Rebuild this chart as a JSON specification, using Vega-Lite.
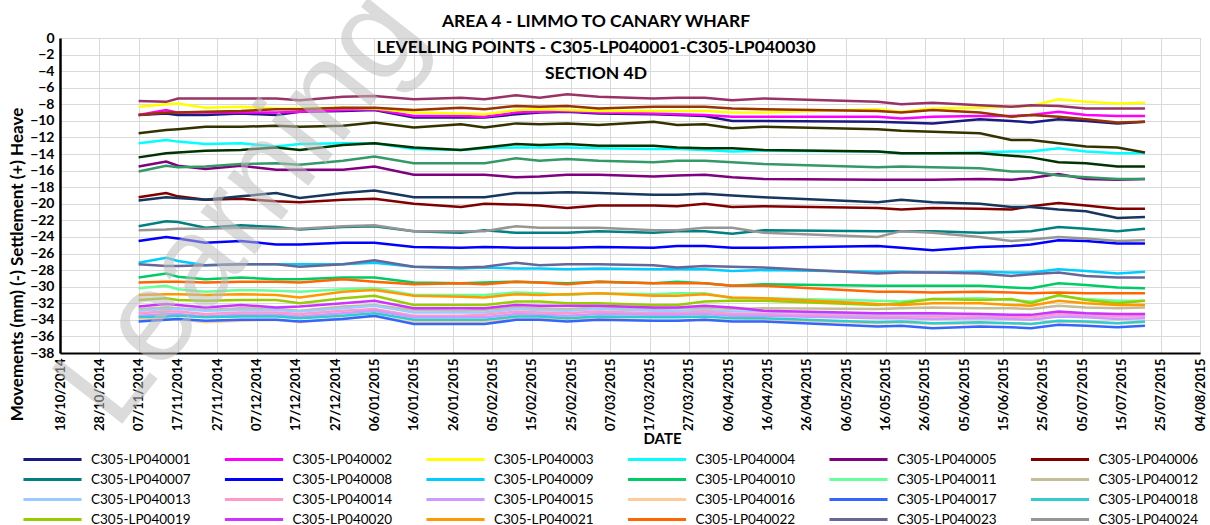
{
"$schema": "https://vega.github.io/schema/vega-lite/v6.json",
"width": 1140, "height": 315,
"autosize": {"type": "none"},
"padding": {"left": 60, "top": 38, "right": 10, "bottom": 172},
"background": "white",
"config": {"font": "Lato", "view": {"stroke": "#a6a6a6", "strokeWidth": 1}, "axis": {"labelOverlap": false, "labelSeparation": 0}},
"title": {"text": ["AREA 4 - LIMMO TO CANARY WHARF", "LEVELLING POINTS -  C305-LP040001-C305-LP040030", "SECTION 4D"], "fontSize": 17.5, "fontWeight": "bold", "font": "Lato", "color": "black", "anchor": "middle", "dx": -34, "offset": -44, "dy": 69, "lineHeight": 26},
"data": {"values": [
{"s":"01","d":"2014-11-07","v":-9.3},{"s":"01","d":"2014-11-14","v":-9.1},{"s":"01","d":"2014-11-17","v":-9.3},{"s":"01","d":"2014-11-24","v":-9.3},{"s":"01","d":"2014-12-03","v":-9.1},{"s":"01","d":"2014-12-12","v":-9.3},{"s":"01","d":"2014-12-18","v":-8.9},{"s":"01","d":"2014-12-29","v":-8.8},{"s":"01","d":"2015-01-06","v":-8.7},{"s":"01","d":"2015-01-16","v":-9.6},{"s":"01","d":"2015-01-28","v":-9.6},{"s":"01","d":"2015-02-03","v":-9.6},{"s":"01","d":"2015-02-11","v":-9.2},{"s":"01","d":"2015-02-17","v":-9.0},{"s":"01","d":"2015-02-24","v":-8.9},{"s":"01","d":"2015-03-04","v":-9.1},{"s":"01","d":"2015-03-18","v":-9.2},{"s":"01","d":"2015-03-24","v":-9.3},{"s":"01","d":"2015-03-31","v":-9.4},{"s":"01","d":"2015-04-07","v":-10.0},{"s":"01","d":"2015-04-15","v":-10.0},{"s":"01","d":"2015-05-14","v":-10.1},{"s":"01","d":"2015-05-20","v":-10.2},{"s":"01","d":"2015-05-28","v":-10.3},{"s":"01","d":"2015-06-09","v":-9.8},{"s":"01","d":"2015-06-17","v":-10.0},{"s":"01","d":"2015-06-22","v":-10.2},{"s":"01","d":"2015-06-29","v":-9.8},{"s":"01","d":"2015-07-06","v":-10.0},{"s":"01","d":"2015-07-14","v":-10.3},{"s":"01","d":"2015-07-21","v":-10.1},
{"s":"02","d":"2014-11-07","v":-9.3},{"s":"02","d":"2014-11-14","v":-8.7},{"s":"02","d":"2014-11-17","v":-9.0},{"s":"02","d":"2014-11-24","v":-9.0},{"s":"02","d":"2014-12-03","v":-9.0},{"s":"02","d":"2014-12-12","v":-9.0},{"s":"02","d":"2014-12-18","v":-8.9},{"s":"02","d":"2014-12-29","v":-8.7},{"s":"02","d":"2015-01-06","v":-8.6},{"s":"02","d":"2015-01-16","v":-9.4},{"s":"02","d":"2015-01-28","v":-9.4},{"s":"02","d":"2015-02-03","v":-9.5},{"s":"02","d":"2015-02-11","v":-9.0},{"s":"02","d":"2015-02-17","v":-8.9},{"s":"02","d":"2015-02-24","v":-8.8},{"s":"02","d":"2015-03-04","v":-9.0},{"s":"02","d":"2015-03-18","v":-9.1},{"s":"02","d":"2015-03-24","v":-9.2},{"s":"02","d":"2015-03-31","v":-9.3},{"s":"02","d":"2015-04-07","v":-9.5},{"s":"02","d":"2015-04-15","v":-9.5},{"s":"02","d":"2015-05-14","v":-9.5},{"s":"02","d":"2015-05-20","v":-9.7},{"s":"02","d":"2015-05-28","v":-9.5},{"s":"02","d":"2015-06-09","v":-9.4},{"s":"02","d":"2015-06-17","v":-9.4},{"s":"02","d":"2015-06-22","v":-9.3},{"s":"02","d":"2015-06-29","v":-8.9},{"s":"02","d":"2015-07-06","v":-9.3},{"s":"02","d":"2015-07-14","v":-9.4},{"s":"02","d":"2015-07-21","v":-9.4},
{"s":"03","d":"2014-11-07","v":-8.3},{"s":"03","d":"2014-11-14","v":-8.0},{"s":"03","d":"2014-11-17","v":-7.9},{"s":"03","d":"2014-11-24","v":-8.4},{"s":"03","d":"2014-12-03","v":-8.3},{"s":"03","d":"2014-12-12","v":-8.5},{"s":"03","d":"2014-12-18","v":-8.5},{"s":"03","d":"2014-12-29","v":-8.4},{"s":"03","d":"2015-01-06","v":-8.5},{"s":"03","d":"2015-01-16","v":-9.0},{"s":"03","d":"2015-01-28","v":-9.1},{"s":"03","d":"2015-02-03","v":-9.2},{"s":"03","d":"2015-02-11","v":-8.7},{"s":"03","d":"2015-02-17","v":-8.6},{"s":"03","d":"2015-02-24","v":-8.7},{"s":"03","d":"2015-03-04","v":-8.8},{"s":"03","d":"2015-03-18","v":-8.8},{"s":"03","d":"2015-03-24","v":-8.8},{"s":"03","d":"2015-03-31","v":-8.8},{"s":"03","d":"2015-04-07","v":-9.0},{"s":"03","d":"2015-04-15","v":-9.0},{"s":"03","d":"2015-05-14","v":-8.6},{"s":"03","d":"2015-05-20","v":-8.9},{"s":"03","d":"2015-05-28","v":-8.5},{"s":"03","d":"2015-06-09","v":-8.4},{"s":"03","d":"2015-06-17","v":-8.3},{"s":"03","d":"2015-06-22","v":-8.2},{"s":"03","d":"2015-06-29","v":-7.4},{"s":"03","d":"2015-07-06","v":-7.7},{"s":"03","d":"2015-07-14","v":-7.9},{"s":"03","d":"2015-07-21","v":-7.8},
{"s":"04","d":"2014-11-07","v":-12.7},{"s":"04","d":"2014-11-14","v":-12.3},{"s":"04","d":"2014-11-17","v":-12.5},{"s":"04","d":"2014-11-24","v":-12.8},{"s":"04","d":"2014-12-03","v":-12.7},{"s":"04","d":"2014-12-12","v":-13.1},{"s":"04","d":"2014-12-18","v":-12.8},{"s":"04","d":"2014-12-29","v":-12.7},{"s":"04","d":"2015-01-06","v":-12.7},{"s":"04","d":"2015-01-16","v":-13.4},{"s":"04","d":"2015-01-28","v":-13.5},{"s":"04","d":"2015-02-03","v":-13.3},{"s":"04","d":"2015-02-11","v":-13.2},{"s":"04","d":"2015-02-17","v":-13.2},{"s":"04","d":"2015-02-24","v":-13.2},{"s":"04","d":"2015-03-04","v":-13.3},{"s":"04","d":"2015-03-18","v":-13.4},{"s":"04","d":"2015-03-24","v":-13.4},{"s":"04","d":"2015-03-31","v":-13.5},{"s":"04","d":"2015-04-07","v":-13.7},{"s":"04","d":"2015-04-15","v":-13.6},{"s":"04","d":"2015-05-14","v":-13.7},{"s":"04","d":"2015-05-20","v":-13.9},{"s":"04","d":"2015-05-28","v":-13.9},{"s":"04","d":"2015-06-09","v":-13.8},{"s":"04","d":"2015-06-17","v":-13.7},{"s":"04","d":"2015-06-22","v":-13.7},{"s":"04","d":"2015-06-29","v":-13.3},{"s":"04","d":"2015-07-06","v":-13.7},{"s":"04","d":"2015-07-14","v":-13.9},{"s":"04","d":"2015-07-21","v":-13.9},
{"s":"05","d":"2014-11-07","v":-15.5},{"s":"05","d":"2014-11-14","v":-14.9},{"s":"05","d":"2014-11-17","v":-15.4},{"s":"05","d":"2014-11-24","v":-15.8},{"s":"05","d":"2014-12-03","v":-15.4},{"s":"05","d":"2014-12-12","v":-15.9},{"s":"05","d":"2014-12-18","v":-15.9},{"s":"05","d":"2014-12-29","v":-15.9},{"s":"05","d":"2015-01-06","v":-15.5},{"s":"05","d":"2015-01-16","v":-16.5},{"s":"05","d":"2015-01-28","v":-16.5},{"s":"05","d":"2015-02-03","v":-16.5},{"s":"05","d":"2015-02-11","v":-16.8},{"s":"05","d":"2015-02-17","v":-16.7},{"s":"05","d":"2015-02-24","v":-16.5},{"s":"05","d":"2015-03-04","v":-16.5},{"s":"05","d":"2015-03-18","v":-16.7},{"s":"05","d":"2015-03-24","v":-16.6},{"s":"05","d":"2015-03-31","v":-16.5},{"s":"05","d":"2015-04-07","v":-16.8},{"s":"05","d":"2015-04-15","v":-17.0},{"s":"05","d":"2015-05-14","v":-17.1},{"s":"05","d":"2015-05-20","v":-17.1},{"s":"05","d":"2015-05-28","v":-17.1},{"s":"05","d":"2015-06-09","v":-17.0},{"s":"05","d":"2015-06-17","v":-17.1},{"s":"05","d":"2015-06-22","v":-16.9},{"s":"05","d":"2015-06-29","v":-16.4},{"s":"05","d":"2015-07-06","v":-17.0},{"s":"05","d":"2015-07-14","v":-17.1},{"s":"05","d":"2015-07-21","v":-17.0},
{"s":"06","d":"2014-11-07","v":-19.2},{"s":"06","d":"2014-11-14","v":-18.7},{"s":"06","d":"2014-11-17","v":-19.1},{"s":"06","d":"2014-11-24","v":-19.5},{"s":"06","d":"2014-12-03","v":-19.4},{"s":"06","d":"2014-12-12","v":-19.7},{"s":"06","d":"2014-12-18","v":-19.8},{"s":"06","d":"2014-12-29","v":-19.5},{"s":"06","d":"2015-01-06","v":-19.4},{"s":"06","d":"2015-01-16","v":-20.0},{"s":"06","d":"2015-01-28","v":-20.4},{"s":"06","d":"2015-02-03","v":-20.0},{"s":"06","d":"2015-02-11","v":-20.1},{"s":"06","d":"2015-02-17","v":-20.2},{"s":"06","d":"2015-02-24","v":-20.5},{"s":"06","d":"2015-03-04","v":-20.2},{"s":"06","d":"2015-03-18","v":-20.2},{"s":"06","d":"2015-03-24","v":-20.3},{"s":"06","d":"2015-03-31","v":-20.0},{"s":"06","d":"2015-04-07","v":-20.4},{"s":"06","d":"2015-04-15","v":-20.3},{"s":"06","d":"2015-05-14","v":-20.5},{"s":"06","d":"2015-05-20","v":-20.7},{"s":"06","d":"2015-05-28","v":-20.5},{"s":"06","d":"2015-06-09","v":-20.6},{"s":"06","d":"2015-06-17","v":-20.7},{"s":"06","d":"2015-06-22","v":-20.3},{"s":"06","d":"2015-06-29","v":-19.9},{"s":"06","d":"2015-07-06","v":-20.2},{"s":"06","d":"2015-07-14","v":-20.6},{"s":"06","d":"2015-07-21","v":-20.6},
{"s":"07","d":"2014-11-07","v":-22.7},{"s":"07","d":"2014-11-14","v":-22.1},{"s":"07","d":"2014-11-17","v":-22.2},{"s":"07","d":"2014-11-24","v":-22.9},{"s":"07","d":"2014-12-03","v":-22.6},{"s":"07","d":"2014-12-12","v":-22.8},{"s":"07","d":"2014-12-18","v":-23.1},{"s":"07","d":"2014-12-29","v":-22.8},{"s":"07","d":"2015-01-06","v":-22.7},{"s":"07","d":"2015-01-16","v":-23.3},{"s":"07","d":"2015-01-28","v":-23.5},{"s":"07","d":"2015-02-03","v":-23.2},{"s":"07","d":"2015-02-11","v":-23.5},{"s":"07","d":"2015-02-17","v":-23.5},{"s":"07","d":"2015-02-24","v":-23.5},{"s":"07","d":"2015-03-04","v":-23.3},{"s":"07","d":"2015-03-18","v":-23.5},{"s":"07","d":"2015-03-24","v":-23.3},{"s":"07","d":"2015-03-31","v":-23.3},{"s":"07","d":"2015-04-07","v":-23.6},{"s":"07","d":"2015-04-15","v":-23.2},{"s":"07","d":"2015-05-14","v":-23.3},{"s":"07","d":"2015-05-20","v":-23.3},{"s":"07","d":"2015-05-28","v":-23.3},{"s":"07","d":"2015-06-09","v":-23.5},{"s":"07","d":"2015-06-17","v":-23.4},{"s":"07","d":"2015-06-22","v":-23.3},{"s":"07","d":"2015-06-29","v":-22.8},{"s":"07","d":"2015-07-06","v":-23.0},{"s":"07","d":"2015-07-14","v":-23.3},{"s":"07","d":"2015-07-21","v":-23.0},
{"s":"08","d":"2014-11-07","v":-24.5},{"s":"08","d":"2014-11-14","v":-24.0},{"s":"08","d":"2014-11-17","v":-24.2},{"s":"08","d":"2014-11-24","v":-24.7},{"s":"08","d":"2014-12-03","v":-24.5},{"s":"08","d":"2014-12-12","v":-24.9},{"s":"08","d":"2014-12-18","v":-24.9},{"s":"08","d":"2014-12-29","v":-24.7},{"s":"08","d":"2015-01-06","v":-24.7},{"s":"08","d":"2015-01-16","v":-25.2},{"s":"08","d":"2015-01-28","v":-25.3},{"s":"08","d":"2015-02-03","v":-25.2},{"s":"08","d":"2015-02-11","v":-25.3},{"s":"08","d":"2015-02-17","v":-25.3},{"s":"08","d":"2015-02-24","v":-25.3},{"s":"08","d":"2015-03-04","v":-25.2},{"s":"08","d":"2015-03-18","v":-25.3},{"s":"08","d":"2015-03-24","v":-25.1},{"s":"08","d":"2015-03-31","v":-25.1},{"s":"08","d":"2015-04-07","v":-25.3},{"s":"08","d":"2015-04-15","v":-25.3},{"s":"08","d":"2015-05-14","v":-25.1},{"s":"08","d":"2015-05-20","v":-25.3},{"s":"08","d":"2015-05-28","v":-25.6},{"s":"08","d":"2015-06-09","v":-25.2},{"s":"08","d":"2015-06-17","v":-25.1},{"s":"08","d":"2015-06-22","v":-24.9},{"s":"08","d":"2015-06-29","v":-24.4},{"s":"08","d":"2015-07-06","v":-24.5},{"s":"08","d":"2015-07-14","v":-24.8},{"s":"08","d":"2015-07-21","v":-24.8},
{"s":"09","d":"2014-11-07","v":-27.1},{"s":"09","d":"2014-11-14","v":-26.5},{"s":"09","d":"2014-11-17","v":-26.9},{"s":"09","d":"2014-11-24","v":-27.4},{"s":"09","d":"2014-12-03","v":-27.3},{"s":"09","d":"2014-12-12","v":-27.3},{"s":"09","d":"2014-12-18","v":-27.3},{"s":"09","d":"2014-12-29","v":-27.3},{"s":"09","d":"2015-01-06","v":-27.1},{"s":"09","d":"2015-01-16","v":-27.6},{"s":"09","d":"2015-01-28","v":-27.8},{"s":"09","d":"2015-02-03","v":-27.7},{"s":"09","d":"2015-02-11","v":-27.8},{"s":"09","d":"2015-02-17","v":-27.8},{"s":"09","d":"2015-02-24","v":-27.9},{"s":"09","d":"2015-03-04","v":-27.8},{"s":"09","d":"2015-03-18","v":-27.9},{"s":"09","d":"2015-03-24","v":-27.9},{"s":"09","d":"2015-03-31","v":-27.9},{"s":"09","d":"2015-04-07","v":-28.1},{"s":"09","d":"2015-04-15","v":-28.0},{"s":"09","d":"2015-05-14","v":-28.2},{"s":"09","d":"2015-05-20","v":-28.2},{"s":"09","d":"2015-05-28","v":-28.3},{"s":"09","d":"2015-06-09","v":-28.2},{"s":"09","d":"2015-06-17","v":-28.3},{"s":"09","d":"2015-06-22","v":-28.3},{"s":"09","d":"2015-06-29","v":-27.9},{"s":"09","d":"2015-07-06","v":-28.1},{"s":"09","d":"2015-07-14","v":-28.4},{"s":"09","d":"2015-07-21","v":-28.2},
{"s":"10","d":"2014-11-07","v":-28.9},{"s":"10","d":"2014-11-14","v":-28.4},{"s":"10","d":"2014-11-17","v":-28.8},{"s":"10","d":"2014-11-24","v":-29.1},{"s":"10","d":"2014-12-03","v":-28.9},{"s":"10","d":"2014-12-12","v":-29.1},{"s":"10","d":"2014-12-18","v":-29.1},{"s":"10","d":"2014-12-29","v":-28.9},{"s":"10","d":"2015-01-06","v":-28.9},{"s":"10","d":"2015-01-16","v":-29.5},{"s":"10","d":"2015-01-28","v":-29.6},{"s":"10","d":"2015-02-03","v":-29.5},{"s":"10","d":"2015-02-11","v":-29.4},{"s":"10","d":"2015-02-17","v":-29.5},{"s":"10","d":"2015-02-24","v":-29.6},{"s":"10","d":"2015-03-04","v":-29.4},{"s":"10","d":"2015-03-18","v":-29.6},{"s":"10","d":"2015-03-24","v":-29.4},{"s":"10","d":"2015-03-31","v":-29.6},{"s":"10","d":"2015-04-07","v":-29.9},{"s":"10","d":"2015-04-15","v":-29.7},{"s":"10","d":"2015-05-14","v":-29.9},{"s":"10","d":"2015-05-20","v":-29.9},{"s":"10","d":"2015-05-28","v":-29.9},{"s":"10","d":"2015-06-09","v":-29.9},{"s":"10","d":"2015-06-17","v":-30.1},{"s":"10","d":"2015-06-22","v":-30.2},{"s":"10","d":"2015-06-29","v":-29.6},{"s":"10","d":"2015-07-06","v":-29.8},{"s":"10","d":"2015-07-14","v":-30.1},{"s":"10","d":"2015-07-21","v":-30.2},
{"s":"11","d":"2014-11-07","v":-30.2},{"s":"11","d":"2014-11-14","v":-29.9},{"s":"11","d":"2014-11-17","v":-30.3},{"s":"11","d":"2014-11-24","v":-30.6},{"s":"11","d":"2014-12-03","v":-30.4},{"s":"11","d":"2014-12-12","v":-30.5},{"s":"11","d":"2014-12-18","v":-30.6},{"s":"11","d":"2014-12-29","v":-30.3},{"s":"11","d":"2015-01-06","v":-30.2},{"s":"11","d":"2015-01-16","v":-31.0},{"s":"11","d":"2015-01-28","v":-31.0},{"s":"11","d":"2015-02-03","v":-31.0},{"s":"11","d":"2015-02-11","v":-30.7},{"s":"11","d":"2015-02-17","v":-30.8},{"s":"11","d":"2015-02-24","v":-31.0},{"s":"11","d":"2015-03-04","v":-30.8},{"s":"11","d":"2015-03-18","v":-30.9},{"s":"11","d":"2015-03-24","v":-30.8},{"s":"11","d":"2015-03-31","v":-30.8},{"s":"11","d":"2015-04-07","v":-31.4},{"s":"11","d":"2015-04-15","v":-31.4},{"s":"11","d":"2015-05-14","v":-31.7},{"s":"11","d":"2015-05-20","v":-31.8},{"s":"11","d":"2015-05-28","v":-31.5},{"s":"11","d":"2015-06-09","v":-31.4},{"s":"11","d":"2015-06-17","v":-31.6},{"s":"11","d":"2015-06-22","v":-31.8},{"s":"11","d":"2015-06-29","v":-31.1},{"s":"11","d":"2015-07-06","v":-31.5},{"s":"11","d":"2015-07-14","v":-31.7},{"s":"11","d":"2015-07-21","v":-31.7},
{"s":"12","d":"2014-11-07","v":-32.7},{"s":"12","d":"2014-11-14","v":-32.5},{"s":"12","d":"2014-11-17","v":-32.6},{"s":"12","d":"2014-11-24","v":-32.8},{"s":"12","d":"2014-12-03","v":-32.6},{"s":"12","d":"2014-12-12","v":-32.7},{"s":"12","d":"2014-12-18","v":-32.9},{"s":"12","d":"2014-12-29","v":-32.4},{"s":"12","d":"2015-01-06","v":-32.2},{"s":"12","d":"2015-01-16","v":-32.8},{"s":"12","d":"2015-01-28","v":-32.9},{"s":"12","d":"2015-02-03","v":-32.8},{"s":"12","d":"2015-02-11","v":-32.5},{"s":"12","d":"2015-02-17","v":-32.6},{"s":"12","d":"2015-02-24","v":-32.7},{"s":"12","d":"2015-03-04","v":-32.5},{"s":"12","d":"2015-03-18","v":-32.7},{"s":"12","d":"2015-03-24","v":-32.6},{"s":"12","d":"2015-03-31","v":-32.5},{"s":"12","d":"2015-04-07","v":-32.7},{"s":"12","d":"2015-04-15","v":-32.6},{"s":"12","d":"2015-05-14","v":-32.7},{"s":"12","d":"2015-05-20","v":-32.6},{"s":"12","d":"2015-05-28","v":-32.5},{"s":"12","d":"2015-06-09","v":-32.6},{"s":"12","d":"2015-06-17","v":-32.6},{"s":"12","d":"2015-06-22","v":-32.7},{"s":"12","d":"2015-06-29","v":-32.3},{"s":"12","d":"2015-07-06","v":-32.5},{"s":"12","d":"2015-07-14","v":-32.6},{"s":"12","d":"2015-07-21","v":-32.5},
{"s":"13","d":"2014-11-07","v":-32.9},{"s":"13","d":"2014-11-14","v":-32.7},{"s":"13","d":"2014-11-17","v":-32.7},{"s":"13","d":"2014-11-24","v":-32.9},{"s":"13","d":"2014-12-03","v":-32.8},{"s":"13","d":"2014-12-12","v":-32.8},{"s":"13","d":"2014-12-18","v":-33.0},{"s":"13","d":"2014-12-29","v":-32.6},{"s":"13","d":"2015-01-06","v":-32.3},{"s":"13","d":"2015-01-16","v":-33.1},{"s":"13","d":"2015-01-28","v":-33.1},{"s":"13","d":"2015-02-03","v":-33.1},{"s":"13","d":"2015-02-11","v":-32.7},{"s":"13","d":"2015-02-17","v":-32.8},{"s":"13","d":"2015-02-24","v":-32.9},{"s":"13","d":"2015-03-04","v":-32.7},{"s":"13","d":"2015-03-18","v":-32.9},{"s":"13","d":"2015-03-24","v":-32.9},{"s":"13","d":"2015-03-31","v":-32.8},{"s":"13","d":"2015-04-07","v":-33.0},{"s":"13","d":"2015-04-15","v":-33.0},{"s":"13","d":"2015-05-14","v":-33.4},{"s":"13","d":"2015-05-20","v":-33.3},{"s":"13","d":"2015-05-28","v":-33.4},{"s":"13","d":"2015-06-09","v":-33.3},{"s":"13","d":"2015-06-17","v":-33.5},{"s":"13","d":"2015-06-22","v":-33.5},{"s":"13","d":"2015-06-29","v":-33.1},{"s":"13","d":"2015-07-06","v":-33.2},{"s":"13","d":"2015-07-14","v":-33.4},{"s":"13","d":"2015-07-21","v":-33.3},
{"s":"14","d":"2014-11-07","v":-33.2},{"s":"14","d":"2014-11-14","v":-33.0},{"s":"14","d":"2014-11-17","v":-33.0},{"s":"14","d":"2014-11-24","v":-33.3},{"s":"14","d":"2014-12-03","v":-33.1},{"s":"14","d":"2014-12-12","v":-33.1},{"s":"14","d":"2014-12-18","v":-33.3},{"s":"14","d":"2014-12-29","v":-32.9},{"s":"14","d":"2015-01-06","v":-32.7},{"s":"14","d":"2015-01-16","v":-33.5},{"s":"14","d":"2015-01-28","v":-33.5},{"s":"14","d":"2015-02-03","v":-33.4},{"s":"14","d":"2015-02-11","v":-33.0},{"s":"14","d":"2015-02-17","v":-33.1},{"s":"14","d":"2015-02-24","v":-33.2},{"s":"14","d":"2015-03-04","v":-33.0},{"s":"14","d":"2015-03-18","v":-33.2},{"s":"14","d":"2015-03-24","v":-33.2},{"s":"14","d":"2015-03-31","v":-33.0},{"s":"14","d":"2015-04-07","v":-33.3},{"s":"14","d":"2015-04-15","v":-33.3},{"s":"14","d":"2015-05-14","v":-33.6},{"s":"14","d":"2015-05-20","v":-33.6},{"s":"14","d":"2015-05-28","v":-33.6},{"s":"14","d":"2015-06-09","v":-33.6},{"s":"14","d":"2015-06-17","v":-33.7},{"s":"14","d":"2015-06-22","v":-33.7},{"s":"14","d":"2015-06-29","v":-33.3},{"s":"14","d":"2015-07-06","v":-33.5},{"s":"14","d":"2015-07-14","v":-33.6},{"s":"14","d":"2015-07-21","v":-33.5},
{"s":"15","d":"2014-11-07","v":-33.5},{"s":"15","d":"2014-11-14","v":-33.3},{"s":"15","d":"2014-11-17","v":-33.3},{"s":"15","d":"2014-11-24","v":-33.6},{"s":"15","d":"2014-12-03","v":-33.4},{"s":"15","d":"2014-12-12","v":-33.4},{"s":"15","d":"2014-12-18","v":-33.6},{"s":"15","d":"2014-12-29","v":-33.2},{"s":"15","d":"2015-01-06","v":-32.9},{"s":"15","d":"2015-01-16","v":-33.7},{"s":"15","d":"2015-01-28","v":-33.7},{"s":"15","d":"2015-02-03","v":-33.7},{"s":"15","d":"2015-02-11","v":-33.3},{"s":"15","d":"2015-02-17","v":-33.4},{"s":"15","d":"2015-02-24","v":-33.5},{"s":"15","d":"2015-03-04","v":-33.3},{"s":"15","d":"2015-03-18","v":-33.4},{"s":"15","d":"2015-03-24","v":-33.4},{"s":"15","d":"2015-03-31","v":-33.3},{"s":"15","d":"2015-04-07","v":-33.5},{"s":"15","d":"2015-04-15","v":-33.5},{"s":"15","d":"2015-05-14","v":-33.8},{"s":"15","d":"2015-05-20","v":-33.8},{"s":"15","d":"2015-05-28","v":-33.9},{"s":"15","d":"2015-06-09","v":-33.8},{"s":"15","d":"2015-06-17","v":-33.9},{"s":"15","d":"2015-06-22","v":-34.0},{"s":"15","d":"2015-06-29","v":-33.6},{"s":"15","d":"2015-07-06","v":-33.7},{"s":"15","d":"2015-07-14","v":-33.9},{"s":"15","d":"2015-07-21","v":-33.8},
{"s":"16","d":"2014-11-07","v":-34.0},{"s":"16","d":"2014-11-14","v":-33.9},{"s":"16","d":"2014-11-17","v":-33.9},{"s":"16","d":"2014-11-24","v":-34.3},{"s":"16","d":"2014-12-03","v":-34.1},{"s":"16","d":"2014-12-12","v":-34.0},{"s":"16","d":"2014-12-18","v":-34.3},{"s":"16","d":"2014-12-29","v":-33.8},{"s":"16","d":"2015-01-06","v":-33.6},{"s":"16","d":"2015-01-16","v":-34.3},{"s":"16","d":"2015-01-28","v":-34.3},{"s":"16","d":"2015-02-03","v":-34.2},{"s":"16","d":"2015-02-11","v":-33.9},{"s":"16","d":"2015-02-17","v":-33.9},{"s":"16","d":"2015-02-24","v":-34.0},{"s":"16","d":"2015-03-04","v":-33.8},{"s":"16","d":"2015-03-18","v":-34.1},{"s":"16","d":"2015-03-24","v":-34.1},{"s":"16","d":"2015-03-31","v":-34.0},{"s":"16","d":"2015-04-07","v":-34.1},{"s":"16","d":"2015-04-15","v":-34.0},{"s":"16","d":"2015-05-14","v":-34.4},{"s":"16","d":"2015-05-20","v":-34.3},{"s":"16","d":"2015-05-28","v":-34.5},{"s":"16","d":"2015-06-09","v":-34.4},{"s":"16","d":"2015-06-17","v":-34.4},{"s":"16","d":"2015-06-22","v":-34.5},{"s":"16","d":"2015-06-29","v":-34.2},{"s":"16","d":"2015-07-06","v":-34.3},{"s":"16","d":"2015-07-14","v":-34.4},{"s":"16","d":"2015-07-21","v":-34.3},
{"s":"17","d":"2014-11-07","v":-34.2},{"s":"17","d":"2014-11-14","v":-34.0},{"s":"17","d":"2014-11-17","v":-33.9},{"s":"17","d":"2014-11-24","v":-34.1},{"s":"17","d":"2014-12-03","v":-34.0},{"s":"17","d":"2014-12-12","v":-34.0},{"s":"17","d":"2014-12-18","v":-34.2},{"s":"17","d":"2014-12-29","v":-33.9},{"s":"17","d":"2015-01-06","v":-33.5},{"s":"17","d":"2015-01-16","v":-34.5},{"s":"17","d":"2015-01-28","v":-34.5},{"s":"17","d":"2015-02-03","v":-34.5},{"s":"17","d":"2015-02-11","v":-34.0},{"s":"17","d":"2015-02-17","v":-34.0},{"s":"17","d":"2015-02-24","v":-34.2},{"s":"17","d":"2015-03-04","v":-34.0},{"s":"17","d":"2015-03-18","v":-34.1},{"s":"17","d":"2015-03-24","v":-34.1},{"s":"17","d":"2015-03-31","v":-34.0},{"s":"17","d":"2015-04-07","v":-34.2},{"s":"17","d":"2015-04-15","v":-34.2},{"s":"17","d":"2015-05-14","v":-34.8},{"s":"17","d":"2015-05-20","v":-34.7},{"s":"17","d":"2015-05-28","v":-35.0},{"s":"17","d":"2015-06-09","v":-34.8},{"s":"17","d":"2015-06-17","v":-34.9},{"s":"17","d":"2015-06-22","v":-35.0},{"s":"17","d":"2015-06-29","v":-34.6},{"s":"17","d":"2015-07-06","v":-34.7},{"s":"17","d":"2015-07-14","v":-34.9},{"s":"17","d":"2015-07-21","v":-34.7},
{"s":"18","d":"2014-11-07","v":-33.7},{"s":"18","d":"2014-11-14","v":-33.6},{"s":"18","d":"2014-11-17","v":-33.5},{"s":"18","d":"2014-11-24","v":-33.7},{"s":"18","d":"2014-12-03","v":-33.6},{"s":"18","d":"2014-12-12","v":-33.6},{"s":"18","d":"2014-12-18","v":-33.8},{"s":"18","d":"2014-12-29","v":-33.5},{"s":"18","d":"2015-01-06","v":-33.2},{"s":"18","d":"2015-01-16","v":-34.0},{"s":"18","d":"2015-01-28","v":-34.0},{"s":"18","d":"2015-02-03","v":-34.0},{"s":"18","d":"2015-02-11","v":-33.6},{"s":"18","d":"2015-02-17","v":-33.6},{"s":"18","d":"2015-02-24","v":-33.8},{"s":"18","d":"2015-03-04","v":-33.6},{"s":"18","d":"2015-03-18","v":-33.7},{"s":"18","d":"2015-03-24","v":-33.7},{"s":"18","d":"2015-03-31","v":-33.6},{"s":"18","d":"2015-04-07","v":-33.8},{"s":"18","d":"2015-04-15","v":-33.8},{"s":"18","d":"2015-05-14","v":-34.3},{"s":"18","d":"2015-05-20","v":-34.2},{"s":"18","d":"2015-05-28","v":-34.4},{"s":"18","d":"2015-06-09","v":-34.3},{"s":"18","d":"2015-06-17","v":-34.4},{"s":"18","d":"2015-06-22","v":-34.5},{"s":"18","d":"2015-06-29","v":-34.1},{"s":"18","d":"2015-07-06","v":-34.2},{"s":"18","d":"2015-07-14","v":-34.4},{"s":"18","d":"2015-07-21","v":-34.2},
{"s":"19","d":"2014-11-07","v":-31.6},{"s":"19","d":"2014-11-14","v":-31.4},{"s":"19","d":"2014-11-17","v":-31.6},{"s":"19","d":"2014-11-24","v":-31.7},{"s":"19","d":"2014-12-03","v":-31.6},{"s":"19","d":"2014-12-12","v":-31.6},{"s":"19","d":"2014-12-18","v":-32.0},{"s":"19","d":"2014-12-29","v":-31.4},{"s":"19","d":"2015-01-06","v":-31.1},{"s":"19","d":"2015-01-16","v":-32.2},{"s":"19","d":"2015-01-28","v":-32.2},{"s":"19","d":"2015-02-03","v":-32.2},{"s":"19","d":"2015-02-11","v":-31.8},{"s":"19","d":"2015-02-17","v":-31.8},{"s":"19","d":"2015-02-24","v":-32.0},{"s":"19","d":"2015-03-04","v":-32.0},{"s":"19","d":"2015-03-18","v":-32.2},{"s":"19","d":"2015-03-24","v":-32.2},{"s":"19","d":"2015-03-31","v":-31.8},{"s":"19","d":"2015-04-07","v":-31.7},{"s":"19","d":"2015-04-15","v":-31.7},{"s":"19","d":"2015-05-14","v":-32.2},{"s":"19","d":"2015-05-20","v":-32.0},{"s":"19","d":"2015-05-28","v":-31.5},{"s":"19","d":"2015-06-09","v":-31.6},{"s":"19","d":"2015-06-17","v":-31.5},{"s":"19","d":"2015-06-22","v":-32.0},{"s":"19","d":"2015-06-29","v":-31.0},{"s":"19","d":"2015-07-06","v":-31.6},{"s":"19","d":"2015-07-14","v":-32.0},{"s":"19","d":"2015-07-21","v":-31.7},
{"s":"20","d":"2014-11-07","v":-32.4},{"s":"20","d":"2014-11-14","v":-32.1},{"s":"20","d":"2014-11-17","v":-32.2},{"s":"20","d":"2014-11-24","v":-32.5},{"s":"20","d":"2014-12-03","v":-32.2},{"s":"20","d":"2014-12-12","v":-32.5},{"s":"20","d":"2014-12-18","v":-32.4},{"s":"20","d":"2014-12-29","v":-32.0},{"s":"20","d":"2015-01-06","v":-31.7},{"s":"20","d":"2015-01-16","v":-32.6},{"s":"20","d":"2015-01-28","v":-32.6},{"s":"20","d":"2015-02-03","v":-32.6},{"s":"20","d":"2015-02-11","v":-32.2},{"s":"20","d":"2015-02-17","v":-32.3},{"s":"20","d":"2015-02-24","v":-32.3},{"s":"20","d":"2015-03-04","v":-32.3},{"s":"20","d":"2015-03-18","v":-32.5},{"s":"20","d":"2015-03-24","v":-32.5},{"s":"20","d":"2015-03-31","v":-32.3},{"s":"20","d":"2015-04-07","v":-32.5},{"s":"20","d":"2015-04-15","v":-32.9},{"s":"20","d":"2015-05-14","v":-33.2},{"s":"20","d":"2015-05-20","v":-33.2},{"s":"20","d":"2015-05-28","v":-33.2},{"s":"20","d":"2015-06-09","v":-33.3},{"s":"20","d":"2015-06-17","v":-33.4},{"s":"20","d":"2015-06-22","v":-33.4},{"s":"20","d":"2015-06-29","v":-33.0},{"s":"20","d":"2015-07-06","v":-33.2},{"s":"20","d":"2015-07-14","v":-33.3},{"s":"20","d":"2015-07-21","v":-33.3},
{"s":"21","d":"2014-11-07","v":-31.0},{"s":"21","d":"2014-11-14","v":-30.9},{"s":"21","d":"2014-11-17","v":-30.9},{"s":"21","d":"2014-11-24","v":-31.0},{"s":"21","d":"2014-12-03","v":-30.9},{"s":"21","d":"2014-12-12","v":-31.0},{"s":"21","d":"2014-12-18","v":-31.3},{"s":"21","d":"2014-12-29","v":-30.6},{"s":"21","d":"2015-01-06","v":-30.4},{"s":"21","d":"2015-01-16","v":-31.1},{"s":"21","d":"2015-01-28","v":-31.2},{"s":"21","d":"2015-02-03","v":-31.3},{"s":"21","d":"2015-02-11","v":-30.9},{"s":"21","d":"2015-02-17","v":-31.0},{"s":"21","d":"2015-02-24","v":-30.9},{"s":"21","d":"2015-03-04","v":-30.8},{"s":"21","d":"2015-03-18","v":-31.1},{"s":"21","d":"2015-03-24","v":-31.1},{"s":"21","d":"2015-03-31","v":-30.9},{"s":"21","d":"2015-04-07","v":-31.3},{"s":"21","d":"2015-04-15","v":-31.4},{"s":"21","d":"2015-05-14","v":-32.1},{"s":"21","d":"2015-05-20","v":-32.2},{"s":"21","d":"2015-05-28","v":-32.0},{"s":"21","d":"2015-06-09","v":-32.0},{"s":"21","d":"2015-06-17","v":-32.2},{"s":"21","d":"2015-06-22","v":-32.3},{"s":"21","d":"2015-06-29","v":-31.7},{"s":"21","d":"2015-07-06","v":-32.0},{"s":"21","d":"2015-07-14","v":-32.2},{"s":"21","d":"2015-07-21","v":-32.2},
{"s":"22","d":"2014-11-07","v":-29.5},{"s":"22","d":"2014-11-14","v":-29.4},{"s":"22","d":"2014-11-17","v":-29.4},{"s":"22","d":"2014-11-24","v":-29.5},{"s":"22","d":"2014-12-03","v":-29.4},{"s":"22","d":"2014-12-12","v":-29.4},{"s":"22","d":"2014-12-18","v":-29.5},{"s":"22","d":"2014-12-29","v":-29.1},{"s":"22","d":"2015-01-06","v":-29.4},{"s":"22","d":"2015-01-16","v":-29.7},{"s":"22","d":"2015-01-28","v":-29.6},{"s":"22","d":"2015-02-03","v":-29.7},{"s":"22","d":"2015-02-11","v":-29.4},{"s":"22","d":"2015-02-17","v":-29.5},{"s":"22","d":"2015-02-24","v":-29.7},{"s":"22","d":"2015-03-04","v":-29.4},{"s":"22","d":"2015-03-18","v":-29.6},{"s":"22","d":"2015-03-24","v":-29.6},{"s":"22","d":"2015-03-31","v":-29.6},{"s":"22","d":"2015-04-07","v":-29.9},{"s":"22","d":"2015-04-15","v":-29.9},{"s":"22","d":"2015-05-14","v":-30.6},{"s":"22","d":"2015-05-20","v":-30.6},{"s":"22","d":"2015-05-28","v":-30.7},{"s":"22","d":"2015-06-09","v":-30.6},{"s":"22","d":"2015-06-17","v":-30.7},{"s":"22","d":"2015-06-22","v":-30.8},{"s":"22","d":"2015-06-29","v":-30.7},{"s":"22","d":"2015-07-06","v":-30.8},{"s":"22","d":"2015-07-14","v":-30.8},{"s":"22","d":"2015-07-21","v":-30.8},
{"s":"23","d":"2014-11-07","v":-27.3},{"s":"23","d":"2014-11-14","v":-27.5},{"s":"23","d":"2014-11-17","v":-27.5},{"s":"23","d":"2014-11-24","v":-27.4},{"s":"23","d":"2014-12-03","v":-27.3},{"s":"23","d":"2014-12-12","v":-27.3},{"s":"23","d":"2014-12-18","v":-27.6},{"s":"23","d":"2014-12-29","v":-27.3},{"s":"23","d":"2015-01-06","v":-26.8},{"s":"23","d":"2015-01-16","v":-27.6},{"s":"23","d":"2015-01-28","v":-27.7},{"s":"23","d":"2015-02-03","v":-27.6},{"s":"23","d":"2015-02-11","v":-27.1},{"s":"23","d":"2015-02-17","v":-27.4},{"s":"23","d":"2015-02-24","v":-27.3},{"s":"23","d":"2015-03-04","v":-27.3},{"s":"23","d":"2015-03-18","v":-27.4},{"s":"23","d":"2015-03-24","v":-27.7},{"s":"23","d":"2015-03-31","v":-27.5},{"s":"23","d":"2015-04-07","v":-27.6},{"s":"23","d":"2015-04-15","v":-27.7},{"s":"23","d":"2015-05-14","v":-28.4},{"s":"23","d":"2015-05-20","v":-28.3},{"s":"23","d":"2015-05-28","v":-28.3},{"s":"23","d":"2015-06-09","v":-28.4},{"s":"23","d":"2015-06-17","v":-28.7},{"s":"23","d":"2015-06-22","v":-28.5},{"s":"23","d":"2015-06-29","v":-28.3},{"s":"23","d":"2015-07-06","v":-28.7},{"s":"23","d":"2015-07-14","v":-28.9},{"s":"23","d":"2015-07-21","v":-28.9},
{"s":"24","d":"2014-11-07","v":-23.2},{"s":"24","d":"2014-11-14","v":-23.1},{"s":"24","d":"2014-11-17","v":-23.0},{"s":"24","d":"2014-11-24","v":-23.0},{"s":"24","d":"2014-12-03","v":-22.9},{"s":"24","d":"2014-12-12","v":-23.0},{"s":"24","d":"2014-12-18","v":-23.0},{"s":"24","d":"2014-12-29","v":-22.7},{"s":"24","d":"2015-01-06","v":-22.6},{"s":"24","d":"2015-01-16","v":-23.3},{"s":"24","d":"2015-01-28","v":-23.3},{"s":"24","d":"2015-02-03","v":-23.3},{"s":"24","d":"2015-02-11","v":-22.7},{"s":"24","d":"2015-02-17","v":-22.9},{"s":"24","d":"2015-02-24","v":-22.9},{"s":"24","d":"2015-03-04","v":-22.9},{"s":"24","d":"2015-03-18","v":-23.2},{"s":"24","d":"2015-03-24","v":-23.2},{"s":"24","d":"2015-03-31","v":-22.9},{"s":"24","d":"2015-04-07","v":-22.9},{"s":"24","d":"2015-04-15","v":-23.5},{"s":"24","d":"2015-05-14","v":-24.0},{"s":"24","d":"2015-05-20","v":-23.3},{"s":"24","d":"2015-05-28","v":-23.5},{"s":"24","d":"2015-06-09","v":-24.0},{"s":"24","d":"2015-06-17","v":-24.5},{"s":"24","d":"2015-06-22","v":-24.3},{"s":"24","d":"2015-06-29","v":-24.0},{"s":"24","d":"2015-07-06","v":-24.2},{"s":"24","d":"2015-07-14","v":-24.5},{"s":"24","d":"2015-07-21","v":-24.4},
{"s":"25","d":"2014-11-07","v":-7.6},{"s":"25","d":"2014-11-14","v":-7.7},{"s":"25","d":"2014-11-17","v":-7.3},{"s":"25","d":"2014-11-24","v":-7.3},{"s":"25","d":"2014-12-03","v":-7.3},{"s":"25","d":"2014-12-12","v":-7.3},{"s":"25","d":"2014-12-18","v":-7.5},{"s":"25","d":"2014-12-29","v":-7.1},{"s":"25","d":"2015-01-06","v":-7.0},{"s":"25","d":"2015-01-16","v":-7.4},{"s":"25","d":"2015-01-28","v":-7.2},{"s":"25","d":"2015-02-03","v":-7.4},{"s":"25","d":"2015-02-11","v":-6.9},{"s":"25","d":"2015-02-17","v":-7.2},{"s":"25","d":"2015-02-24","v":-6.8},{"s":"25","d":"2015-03-04","v":-7.1},{"s":"25","d":"2015-03-18","v":-7.3},{"s":"25","d":"2015-03-24","v":-7.2},{"s":"25","d":"2015-03-31","v":-7.2},{"s":"25","d":"2015-04-07","v":-7.5},{"s":"25","d":"2015-04-15","v":-7.3},{"s":"25","d":"2015-05-14","v":-7.7},{"s":"25","d":"2015-05-20","v":-8.0},{"s":"25","d":"2015-05-28","v":-7.8},{"s":"25","d":"2015-06-09","v":-8.1},{"s":"25","d":"2015-06-17","v":-8.3},{"s":"25","d":"2015-06-22","v":-8.1},{"s":"25","d":"2015-06-29","v":-8.2},{"s":"25","d":"2015-07-06","v":-8.5},{"s":"25","d":"2015-07-14","v":-8.5},{"s":"25","d":"2015-07-21","v":-8.5},
{"s":"26","d":"2014-11-07","v":-9.3},{"s":"26","d":"2014-11-14","v":-9.0},{"s":"26","d":"2014-11-17","v":-9.0},{"s":"26","d":"2014-11-24","v":-8.9},{"s":"26","d":"2014-12-03","v":-8.8},{"s":"26","d":"2014-12-12","v":-8.6},{"s":"26","d":"2014-12-18","v":-8.6},{"s":"26","d":"2014-12-29","v":-8.4},{"s":"26","d":"2015-01-06","v":-8.4},{"s":"26","d":"2015-01-16","v":-8.7},{"s":"26","d":"2015-01-28","v":-8.4},{"s":"26","d":"2015-02-03","v":-8.6},{"s":"26","d":"2015-02-11","v":-8.2},{"s":"26","d":"2015-02-17","v":-8.3},{"s":"26","d":"2015-02-24","v":-8.2},{"s":"26","d":"2015-03-04","v":-8.5},{"s":"26","d":"2015-03-18","v":-8.3},{"s":"26","d":"2015-03-24","v":-8.3},{"s":"26","d":"2015-03-31","v":-8.3},{"s":"26","d":"2015-04-07","v":-8.5},{"s":"26","d":"2015-04-15","v":-8.6},{"s":"26","d":"2015-05-14","v":-8.8},{"s":"26","d":"2015-05-20","v":-9.0},{"s":"26","d":"2015-05-28","v":-8.7},{"s":"26","d":"2015-06-09","v":-9.0},{"s":"26","d":"2015-06-17","v":-9.5},{"s":"26","d":"2015-06-22","v":-9.3},{"s":"26","d":"2015-06-29","v":-9.5},{"s":"26","d":"2015-07-06","v":-9.8},{"s":"26","d":"2015-07-14","v":-10.2},{"s":"26","d":"2015-07-21","v":-10.1},
{"s":"27","d":"2014-11-07","v":-11.5},{"s":"27","d":"2014-11-14","v":-11.1},{"s":"27","d":"2014-11-17","v":-11.0},{"s":"27","d":"2014-11-24","v":-10.7},{"s":"27","d":"2014-12-03","v":-10.7},{"s":"27","d":"2014-12-12","v":-10.6},{"s":"27","d":"2014-12-18","v":-10.7},{"s":"27","d":"2014-12-29","v":-10.6},{"s":"27","d":"2015-01-06","v":-10.2},{"s":"27","d":"2015-01-16","v":-10.8},{"s":"27","d":"2015-01-28","v":-10.4},{"s":"27","d":"2015-02-03","v":-10.8},{"s":"27","d":"2015-02-11","v":-10.3},{"s":"27","d":"2015-02-17","v":-10.4},{"s":"27","d":"2015-02-24","v":-10.3},{"s":"27","d":"2015-03-04","v":-10.5},{"s":"27","d":"2015-03-18","v":-10.1},{"s":"27","d":"2015-03-24","v":-10.5},{"s":"27","d":"2015-03-31","v":-10.4},{"s":"27","d":"2015-04-07","v":-10.9},{"s":"27","d":"2015-04-15","v":-10.7},{"s":"27","d":"2015-05-14","v":-11.0},{"s":"27","d":"2015-05-20","v":-11.2},{"s":"27","d":"2015-05-28","v":-11.3},{"s":"27","d":"2015-06-09","v":-11.5},{"s":"27","d":"2015-06-17","v":-12.3},{"s":"27","d":"2015-06-22","v":-12.3},{"s":"27","d":"2015-06-29","v":-12.7},{"s":"27","d":"2015-07-06","v":-13.1},{"s":"27","d":"2015-07-14","v":-13.2},{"s":"27","d":"2015-07-21","v":-13.8},
{"s":"28","d":"2014-11-07","v":-14.4},{"s":"28","d":"2014-11-14","v":-13.9},{"s":"28","d":"2014-11-17","v":-13.8},{"s":"28","d":"2014-11-24","v":-13.6},{"s":"28","d":"2014-12-03","v":-13.5},{"s":"28","d":"2014-12-12","v":-13.2},{"s":"28","d":"2014-12-18","v":-13.5},{"s":"28","d":"2014-12-29","v":-12.9},{"s":"28","d":"2015-01-06","v":-12.7},{"s":"28","d":"2015-01-16","v":-13.2},{"s":"28","d":"2015-01-28","v":-13.5},{"s":"28","d":"2015-02-03","v":-13.2},{"s":"28","d":"2015-02-11","v":-12.8},{"s":"28","d":"2015-02-17","v":-12.9},{"s":"28","d":"2015-02-24","v":-12.8},{"s":"28","d":"2015-03-04","v":-13.0},{"s":"28","d":"2015-03-18","v":-13.0},{"s":"28","d":"2015-03-24","v":-13.2},{"s":"28","d":"2015-03-31","v":-13.3},{"s":"28","d":"2015-04-07","v":-13.3},{"s":"28","d":"2015-04-15","v":-13.5},{"s":"28","d":"2015-05-14","v":-13.7},{"s":"28","d":"2015-05-20","v":-13.9},{"s":"28","d":"2015-05-28","v":-13.9},{"s":"28","d":"2015-06-09","v":-13.9},{"s":"28","d":"2015-06-17","v":-14.2},{"s":"28","d":"2015-06-22","v":-14.4},{"s":"28","d":"2015-06-29","v":-15.0},{"s":"28","d":"2015-07-06","v":-15.1},{"s":"28","d":"2015-07-14","v":-15.5},{"s":"28","d":"2015-07-21","v":-15.5},
{"s":"29","d":"2014-11-07","v":-16.1},{"s":"29","d":"2014-11-14","v":-15.4},{"s":"29","d":"2014-11-17","v":-15.6},{"s":"29","d":"2014-11-24","v":-15.5},{"s":"29","d":"2014-12-03","v":-15.2},{"s":"29","d":"2014-12-12","v":-15.1},{"s":"29","d":"2014-12-18","v":-15.3},{"s":"29","d":"2014-12-29","v":-14.8},{"s":"29","d":"2015-01-06","v":-14.3},{"s":"29","d":"2015-01-16","v":-15.1},{"s":"29","d":"2015-01-28","v":-15.1},{"s":"29","d":"2015-02-03","v":-15.1},{"s":"29","d":"2015-02-11","v":-14.5},{"s":"29","d":"2015-02-17","v":-14.8},{"s":"29","d":"2015-02-24","v":-14.6},{"s":"29","d":"2015-03-04","v":-14.8},{"s":"29","d":"2015-03-18","v":-15.0},{"s":"29","d":"2015-03-24","v":-14.8},{"s":"29","d":"2015-03-31","v":-14.8},{"s":"29","d":"2015-04-07","v":-15.0},{"s":"29","d":"2015-04-15","v":-15.2},{"s":"29","d":"2015-05-14","v":-15.6},{"s":"29","d":"2015-05-20","v":-15.5},{"s":"29","d":"2015-05-28","v":-15.6},{"s":"29","d":"2015-06-09","v":-15.7},{"s":"29","d":"2015-06-17","v":-16.1},{"s":"29","d":"2015-06-22","v":-16.1},{"s":"29","d":"2015-06-29","v":-16.6},{"s":"29","d":"2015-07-06","v":-16.8},{"s":"29","d":"2015-07-14","v":-17.0},{"s":"29","d":"2015-07-21","v":-17.0},
{"s":"30","d":"2014-11-07","v":-19.6},{"s":"30","d":"2014-11-14","v":-19.2},{"s":"30","d":"2014-11-17","v":-19.3},{"s":"30","d":"2014-11-24","v":-19.5},{"s":"30","d":"2014-12-03","v":-19.1},{"s":"30","d":"2014-12-12","v":-18.7},{"s":"30","d":"2014-12-18","v":-19.3},{"s":"30","d":"2014-12-29","v":-18.7},{"s":"30","d":"2015-01-06","v":-18.4},{"s":"30","d":"2015-01-16","v":-19.2},{"s":"30","d":"2015-01-28","v":-19.2},{"s":"30","d":"2015-02-03","v":-19.2},{"s":"30","d":"2015-02-11","v":-18.7},{"s":"30","d":"2015-02-17","v":-18.7},{"s":"30","d":"2015-02-24","v":-18.6},{"s":"30","d":"2015-03-04","v":-18.7},{"s":"30","d":"2015-03-18","v":-18.9},{"s":"30","d":"2015-03-24","v":-18.9},{"s":"30","d":"2015-03-31","v":-18.8},{"s":"30","d":"2015-04-07","v":-19.0},{"s":"30","d":"2015-04-15","v":-19.2},{"s":"30","d":"2015-05-14","v":-19.8},{"s":"30","d":"2015-05-20","v":-19.5},{"s":"30","d":"2015-05-28","v":-19.8},{"s":"30","d":"2015-06-09","v":-20.0},{"s":"30","d":"2015-06-17","v":-20.4},{"s":"30","d":"2015-06-22","v":-20.4},{"s":"30","d":"2015-06-29","v":-20.7},{"s":"30","d":"2015-07-06","v":-20.9},{"s":"30","d":"2015-07-14","v":-21.7},{"s":"30","d":"2015-07-21","v":-21.6}
]},
"layer": [
{"mark": {"type": "line", "strokeWidth": 2.5},
 "encoding": {
  "x": {"field": "d", "type": "temporal",
   "scale": {"type": "utc", "nice": false, "domain": [{"year": 2014, "month": 10, "date": 18, "utc": true}, {"year": 2015, "month": 8, "date": 4, "utc": true}]},
   "axis": {"title": "DATE", "titleFontSize": 15, "titleFontWeight": "bold", "titleColor": "black", "titleX": 602, "titleY": 85, "titleAlign": "center", "titleBaseline": "middle",
    "format": "%d/%m/%Y", "labelAngle": -90, "labelFontSize": 13, "labelFontWeight": "bold", "labelColor": "black", "labelPadding": 5, "labelOverlap": false, "labelFlush": false, "labelBound": false, "tickCount": 60,
    "ticks": false, "domainColor": "black", "domainWidth": 2, "gridColor": "#d9d9d9", "gridWidth": 1,
    "values": [
     {"year": 2014, "month": 10, "date": 18, "utc": true}, {"year": 2014, "month": 10, "date": 28, "utc": true},
     {"year": 2014, "month": 11, "date": 7, "utc": true}, {"year": 2014, "month": 11, "date": 17, "utc": true}, {"year": 2014, "month": 11, "date": 27, "utc": true},
     {"year": 2014, "month": 12, "date": 7, "utc": true}, {"year": 2014, "month": 12, "date": 17, "utc": true}, {"year": 2014, "month": 12, "date": 27, "utc": true},
     {"year": 2015, "month": 1, "date": 6, "utc": true}, {"year": 2015, "month": 1, "date": 16, "utc": true}, {"year": 2015, "month": 1, "date": 26, "utc": true},
     {"year": 2015, "month": 2, "date": 5, "utc": true}, {"year": 2015, "month": 2, "date": 15, "utc": true}, {"year": 2015, "month": 2, "date": 25, "utc": true},
     {"year": 2015, "month": 3, "date": 7, "utc": true}, {"year": 2015, "month": 3, "date": 17, "utc": true}, {"year": 2015, "month": 3, "date": 27, "utc": true},
     {"year": 2015, "month": 4, "date": 6, "utc": true}, {"year": 2015, "month": 4, "date": 16, "utc": true}, {"year": 2015, "month": 4, "date": 26, "utc": true},
     {"year": 2015, "month": 5, "date": 6, "utc": true}, {"year": 2015, "month": 5, "date": 16, "utc": true}, {"year": 2015, "month": 5, "date": 26, "utc": true},
     {"year": 2015, "month": 6, "date": 5, "utc": true}, {"year": 2015, "month": 6, "date": 15, "utc": true}, {"year": 2015, "month": 6, "date": 25, "utc": true},
     {"year": 2015, "month": 7, "date": 5, "utc": true}, {"year": 2015, "month": 7, "date": 15, "utc": true}, {"year": 2015, "month": 7, "date": 25, "utc": true},
     {"year": 2015, "month": 8, "date": 4, "utc": true}]}},
  "y": {"field": "v", "type": "quantitative",
   "scale": {"domain": [-38, 0], "nice": false, "zero": false},
   "axis": {"title": "Movements (mm) (-) Settlement (+) Heave", "titleFontSize": 17, "titleFontWeight": "bold", "titleColor": "black", "titleX": -43, "titleY": 226, "titleAngle": -90, "titleAlign": "center", "titleBaseline": "middle",
    "values": [0, -2, -4, -6, -8, -10, -12, -14, -16, -18, -20, -22, -24, -26, -28, -30, -32, -34, -36, -38], "tickCount": 40,
    "labelFontSize": 14, "labelFontWeight": "bold", "labelColor": "black", "labelPadding": 6, "labelOverlap": false, "labelBound": false, "ticks": false,
    "domainColor": "black", "domainWidth": 2.5, "gridColor": "#d9d9d9", "gridWidth": 1}},
  "color": {"field": "s", "type": "nominal",
   "scale": {"domain": ["01","02","03","04","05","06","07","08","09","10","11","12","13","14","15","16","17","18","19","20","21","22","23","24","25","26","27","28","29","30"],
    "range": ["#1a1a80","#ff00ff","#ffff00","#00ffff","#800080","#800000","#008080","#0000ff","#00ccff","#00cc66","#66ff99","#c4bd97","#99ccff","#ff99cc","#cc99ff","#ffcc99","#3366ff","#33cccc","#99cc00","#cc33ff","#ff9900","#ff6600","#666699","#969696","#993366","#993300","#333300","#003300","#339966","#17375e"]},
   "legend": {"title": null, "orient": "none", "legendX": -15, "legendY": 414, "columns": 6, "direction": "horizontal",
    "values": ["01","02","03","04","05","06","07","08","09","10","11","12","13","14","15","16","17","18","19","20","21","22","23","24"],
    "labelExpr": "'C305-LP0400' + datum.label",
    "symbolType": "M-5,0H5", "symbolSize": 135, "symbolStrokeWidth": 3, "labelOffset": 31,
    "labelFontSize": 13.5, "labelFont": "Lato", "labelColor": "black", "columnPadding": 27.5, "rowPadding": 6}}
 }},
{"data": {"values": [{"t": "Learning"}]},
 "mark": {"type": "text", "angle": -52, "fontSize": 130, "font": "Liberation Sans", "color": "#bfbfbf", "opacity": 0.55, "align": "center", "baseline": "middle"},
 "encoding": {
  "x": {"datum": {"year": 2014, "month": 12, "date": 3, "utc": true}, "type": "temporal"},
  "y": {"datum": -20.6, "type": "quantitative"},
  "text": {"field": "t"}}}
]
}
